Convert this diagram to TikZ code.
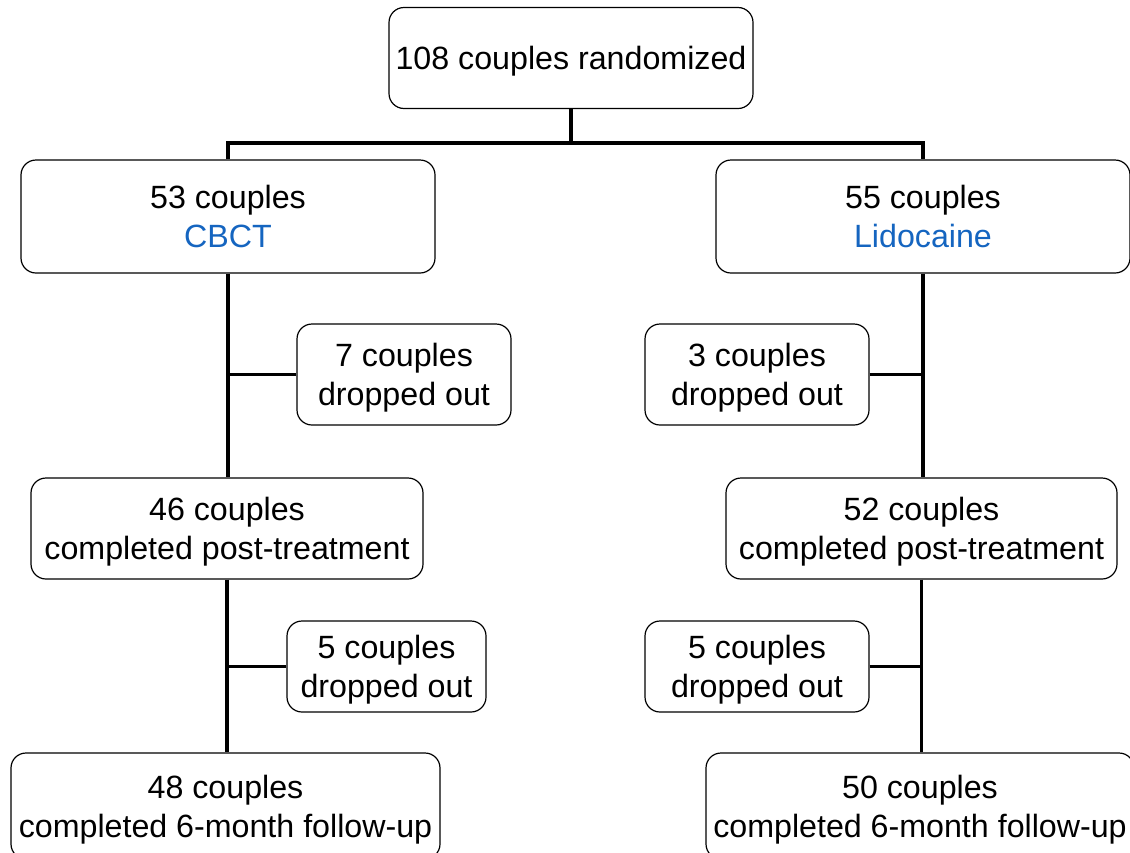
\documentclass[tikz,border=0pt]{standalone}
\usepackage{fontspec}
\setmainfont{Liberation Sans}
\usepackage{tikz}
\usetikzlibrary{positioning}
\definecolor{armblue}{RGB}{21,101,192}

\begin{document}
\begin{tikzpicture}[x=1pt, y=-1pt,   % one unit = one pixel of the layout
    flowbox/.style={
        draw=black,
        line width=1.2pt,
        rounded corners=15pt,
        inner sep=0pt,
        align=center,
        text depth=0pt,
        minimum height=101pt,
        font=\fontsize{32.2}{39}\selectfont
    },
    link/.style={line width=3.2pt, black}
]
    \useasboundingbox (0,0) rectangle (1130,852);

    % 1. The randomization
    \node [flowbox, minimum width=364pt] (rand) at (571,58) {108 couples randomized};

    % 2. The two arms
    \node [flowbox, minimum width=414pt, minimum height=113pt] (cbct) at (228,216.5) {
        53 couples \\ \textcolor{armblue}{CBCT}};
    \node [flowbox, minimum width=414pt, minimum height=113pt] (lido) at (923,216.5) {
        55 couples \\ \textcolor{armblue}{Lidocaine}};

    % 3. First drop outs
    \node [flowbox, minimum width=214pt] (dropA) at (404,374.5) {7 couples \\ dropped out};
    \node [flowbox, minimum width=224pt] (dropB) at (757,374.5) {3 couples \\ dropped out};

    % 4. Post-treatment
    \node [flowbox, minimum width=392pt] (postA) at (227,528.5) {46 couples \\ completed post-treatment};
    \node [flowbox, minimum width=391pt] (postB) at (921.5,528.5) {52 couples \\ completed post-treatment};

    % 5. Second drop outs
    \node [flowbox, minimum width=199pt, minimum height=91pt] (dropC) at (386.5,666.5) {5 couples \\ dropped out};
    \node [flowbox, minimum width=224pt, minimum height=91pt] (dropD) at (757,666.5) {5 couples \\ dropped out};

    % 6. Follow-up (cut by the page edge)
    \node [flowbox, minimum width=429pt, minimum height=106pt] (follA) at (225.5,806) {48 couples \\ completed 6-month follow-up};
    \node [flowbox, minimum width=428pt, minimum height=106pt] (follB) at (920,806) {50 couples \\ completed 6-month follow-up};

    % The Connections
    \coordinate (split) at (571,143);
    \draw [link] (rand.south) -- (split);
    \draw [link] (cbct.north) |- (split) -| (lido.north);

    \draw [link] (cbct.south) -- (cbct.south |- postA.north);
    \draw [link] (dropA.west) -- (dropA.west -| cbct.south);
    \draw [link] (lido.south) -- (lido.south |- postB.north);
    \draw [link] (dropB.east) -- (dropB.east -| lido.south);

    \draw [link] (postA.south) -- (postA.south |- follA.north);
    \draw [link] (dropC.west) -- (dropC.west -| postA.south);
    \draw [link] (postB.south) -- (postB.south |- follB.north);
    \draw [link] (dropD.east) -- (dropD.east -| postB.south);

\end{tikzpicture}
\end{document}
